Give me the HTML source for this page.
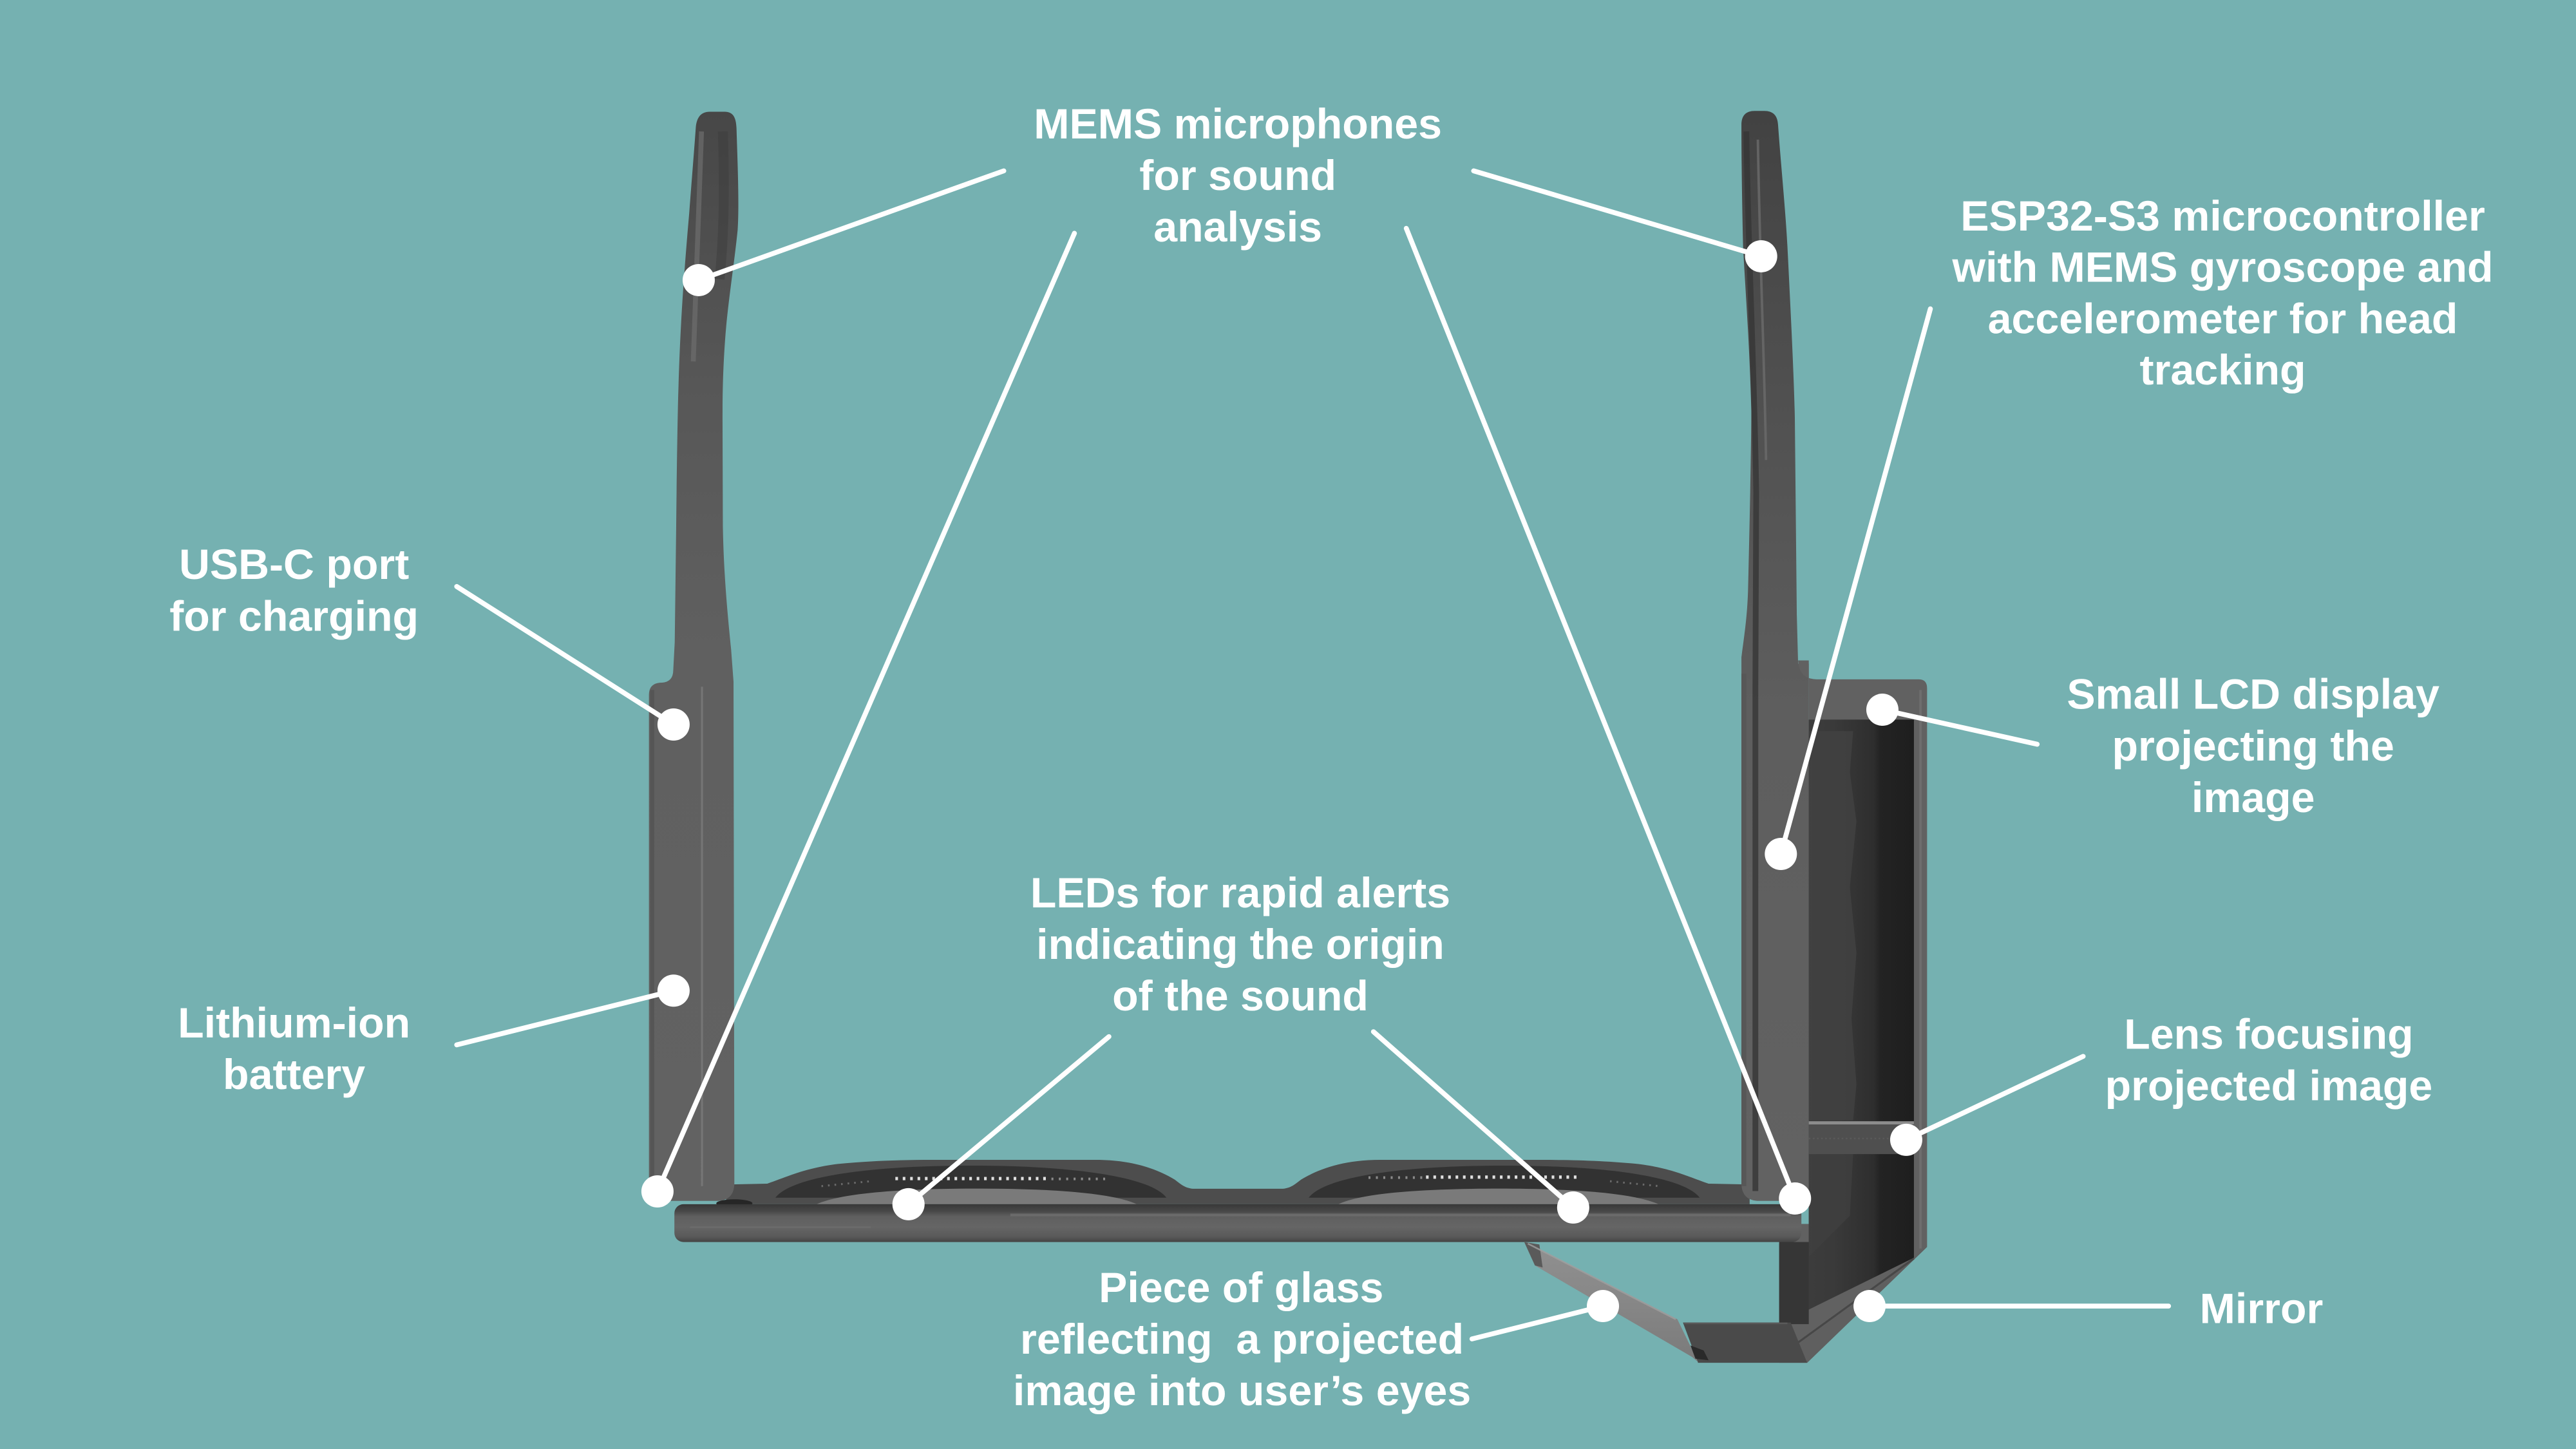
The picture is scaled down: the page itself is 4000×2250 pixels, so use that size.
<!DOCTYPE html>
<html>
<head>
<meta charset="utf-8">
<style>
html,body{margin:0;padding:0;background:#75b1b1;}
svg{display:block;}
text{font-family:"Liberation Sans",Arial,sans-serif;font-weight:bold;font-size:26px;fill:#ffffff;text-anchor:middle;}
</style>
</head>
<body>
<svg width="4000" height="2250" viewBox="0 0 1568 882" xmlns="http://www.w3.org/2000/svg">
<defs>
  <linearGradient id="armL" x1="0" y1="0" x2="0" y2="1">
    <stop offset="0" stop-color="#474747"/>
    <stop offset="0.25" stop-color="#575757"/>
    <stop offset="0.5" stop-color="#606060"/>
    <stop offset="1" stop-color="#626262"/>
  </linearGradient>
  <linearGradient id="armR" x1="0" y1="0" x2="0" y2="1">
    <stop offset="0" stop-color="#424242"/>
    <stop offset="0.3" stop-color="#525252"/>
    <stop offset="0.55" stop-color="#5e5e5e"/>
    <stop offset="1" stop-color="#626262"/>
  </linearGradient>
  <linearGradient id="bar" x1="0" y1="0" x2="0" y2="1">
    <stop offset="0" stop-color="#383838"/>
    <stop offset="0.18" stop-color="#474747"/>
    <stop offset="0.32" stop-color="#5f5f5f"/>
    <stop offset="0.6" stop-color="#656565"/>
    <stop offset="0.85" stop-color="#5a5a5a"/>
    <stop offset="1" stop-color="#444444"/>
  </linearGradient>
  <linearGradient id="cav" x1="0" y1="0" x2="1" y2="0">
    <stop offset="0" stop-color="#3e3e3e"/>
    <stop offset="0.4" stop-color="#3a3a3a"/>
    <stop offset="0.7" stop-color="#2e2e2e"/>
    <stop offset="0.75" stop-color="#232323"/>
    <stop offset="1" stop-color="#1e1e1e"/>
  </linearGradient>
  <linearGradient id="glass" x1="0" y1="0" x2="0" y2="1">
    <stop offset="0" stop-color="#909090"/>
    <stop offset="0.5" stop-color="#878787"/>
    <stop offset="1" stop-color="#7a7a7a"/>
  </linearGradient>
</defs>

<rect x="0" y="0" width="1568" height="882" fill="#75b1b1"/>

<!-- ===== Frame top surface with lens rims ===== -->
<path d="M 442,733 L 442,721 L 467,720.5 C 480,716 490,711 510,708.5 C 530,706.5 550,706 567,706 L 667,706 C 690,706 705,712 715,718 C 719,721 721,723 726,723.6 L 781,723.6 C 786,723 788,721 792,718 C 802,712 817,706 840,706 L 940,706 C 957,706 977,706.5 997,708.5 C 1017,711 1027,716 1040,720.5 L 1065,721 L 1065,733 Z" fill="#4d4d4d"/>
<!-- left rim recess -->
<path d="M 472,729 C 482,716 530,709.5 591,709.5 C 652,709.5 700,716 710,729 Z" fill="#323232"/>
<path d="M 497,733 C 515,725 560,723.5 594,723.5 C 630,723.5 675,725 692,733 Z" fill="#7a7a7a"/>
<!-- right rim recess -->
<path d="M 796.6,729 C 806.6,716 854.6,709.5 915.6,709.5 C 976.6,709.5 1024.6,716 1034.6,729 Z" fill="#323232"/>
<path d="M 814.6,733 C 831.6,725 876.6,723.5 912.6,723.5 C 946.6,723.5 991.6,725 1009.6,733 Z" fill="#7a7a7a"/>
<!-- LEDs -->
<line x1="545" y1="717.4" x2="637" y2="717.4" stroke="#e0e0e0" stroke-width="2" stroke-dasharray="1.6 2.9"/>
<line x1="640" y1="717.6" x2="673" y2="717.6" stroke="#8a8a8a" stroke-width="1.6" stroke-dasharray="1.2 3.3"/>
<line x1="500" y1="722" x2="530" y2="719" stroke="#6a6a6a" stroke-width="1.2" stroke-dasharray="1 3"/>
<line x1="868" y1="716.5" x2="961" y2="716.5" stroke="#e0e0e0" stroke-width="2" stroke-dasharray="1.6 2.9"/>
<line x1="833" y1="716.8" x2="866" y2="716.8" stroke="#8a8a8a" stroke-width="1.6" stroke-dasharray="1.2 3.3"/>
<line x1="980" y1="719" x2="1010" y2="722" stroke="#6a6a6a" stroke-width="1.2" stroke-dasharray="1 3"/>

<!-- ===== Left temple ===== -->
<path d="M 423.5,78 C 424,71 427,68 432,68 L 441,68 C 446,68 448,71 448.3,78 C 449,100 450,125 449,140 C 447,160 443,185 441.5,205 C 440,225 439.8,240 439.8,255 L 440,320 C 440.5,350 443,375 445,395 L 446.5,415 L 447,720 Q 447,731 436,731 L 404,731 Q 395,731 395,722 L 395,423 Q 395,415.5 403,415.5 Q 409.7,415 409.8,408 L 410.7,391 L 411.6,320 C 412,280 412.5,250 413,235 C 414,200 416,170 419.5,130 C 421,110 422.5,92 423.5,78 Z" fill="url(#armL)"/>
<!-- left temple highlights -->
<path d="M 427,80 C 426,120 424,170 422,220" stroke="#6e6e6e" stroke-width="3" fill="none" opacity="0.7"/>
<path d="M 440,80 C 441,110 441,140 438,170" stroke="#3c3c3c" stroke-width="6" fill="none" opacity="0.5"/>
<line x1="427.3" y1="418" x2="427.3" y2="722" stroke="#767676" stroke-width="1.2"/>
<line x1="397" y1="420" x2="397" y2="725" stroke="#555555" stroke-width="2.5"/>
<!-- hinge shadow -->
<ellipse cx="447" cy="732.5" rx="11" ry="2.5" fill="#262626"/>

<!-- ===== Right temple ===== -->
<path d="M 1060,76 C 1060,70 1063,67.5 1068,67.5 L 1074,67.5 C 1079,67.5 1082,70 1082.3,76 C 1084,100 1087,130 1088,150 C 1090,190 1092,230 1092.5,254 L 1093.7,374 L 1094.5,404 L 1101,404 L 1101,731 L 1071,731 Q 1060,731 1060,720 L 1060,400 C 1062,385 1063.5,375 1064,360 C 1065,320 1066,270 1066,250 C 1065,210 1062,170 1061,150 C 1060.3,120 1060,95 1060,76 Z" fill="url(#armR)"/>
<path d="M 1063,80 C 1064,150 1068,230 1069,300 L 1068.5,420 L 1068.5,725" stroke="#363636" stroke-width="3.5" fill="none" opacity="0.8"/>
<path d="M 1070,85 C 1071,150 1074,220 1075,280" stroke="#6c6c6c" stroke-width="1.5" fill="none" opacity="0.8"/>
<line x1="1061.5" y1="410" x2="1061.5" y2="722" stroke="#575757" stroke-width="3"/>

<!-- ===== LCD box ===== -->
<path d="M 1094.5,402 Q 1095,413.5 1106,413.5 L 1168,413.5 Q 1173,413.5 1173,419 L 1173,759 L 1100,829.5 L 1083,829.5 L 1083,745 L 1101,745 L 1101,402 Z" fill="#616161"/>
<line x1="1169" y1="420" x2="1169" y2="760" stroke="#6e6e6e" stroke-width="1.5"/>
<polygon points="1101,438 1165,438 1165,765.6 1083,806 1083,757 1101,757" fill="url(#cav)"/>
<path d="M 1101,445 L 1128,445 L 1126,470 L 1130,500 L 1126,540 L 1130,580 L 1127,620 L 1130,660 L 1128,682 L 1101,682 Z" fill="#424242" opacity="0.8"/>
<path d="M 1101,702 L 1128,702 L 1126,740 L 1101,765 Z" fill="#404040" opacity="0.8"/>
<!-- lens -->
<rect x="1101" y="682.5" width="64" height="2" fill="#8c8c8c"/>
<rect x="1101" y="684.5" width="64" height="18" fill="#4f4f4f"/>
<line x1="1101" y1="693" x2="1165" y2="693" stroke="#5a5a5a" stroke-width="1" stroke-dasharray="1 1.5"/>
<!-- mirror band -->
<polygon points="1090,820 1165,765.6 1173,759 1100,829.5" fill="#5f5f5f"/>
<line x1="1092" y1="819" x2="1165" y2="766" stroke="#474747" stroke-width="1.2"/>

<!-- ===== Front bar ===== -->
<rect x="410.5" y="733" width="686" height="23" rx="5.5" ry="5.5" fill="url(#bar)"/>
<line x1="615" y1="739.5" x2="1090" y2="739.5" stroke="#737373" stroke-width="1.6" opacity="0.7"/>
<line x1="420" y1="747" x2="530" y2="747" stroke="#707070" stroke-width="1.2" opacity="0.6"/>
<!-- below bar right: front wall of box -->
<rect x="1083" y="756" width="18" height="50" fill="#363636"/>

<!-- ===== Glass holder plate ===== -->
<polygon points="1024.4,805 1090,805 1100,829.5 1033.6,829.5" fill="#4a4a4a"/>
<line x1="1025" y1="805.5" x2="1088" y2="805.5" stroke="#5a5a5a" stroke-width="1"/>
<!-- glass -->
<polygon points="927.8,755.8 1021,803 1033.6,829 1030,826 934.3,770.3" fill="url(#glass)"/>
<polygon points="927.8,756 937,757.5 939,771.5 934.3,770.3" fill="#5a5a5a"/>
<line x1="930" y1="757" x2="1020" y2="803" stroke="#a0a0a0" stroke-width="1" opacity="0.8"/>
<polygon points="1029,819 1037,822 1040,828 1032,827" fill="#2a2a2a"/>

<!-- ===== Connector lines ===== -->
<g stroke="#ffffff" stroke-width="3" stroke-linecap="round" fill="none">
  <line x1="611" y1="104" x2="425.3" y2="170.5"/>
  <line x1="897" y1="104" x2="1072" y2="156"/>
  <line x1="654" y1="142" x2="400.2" y2="725.2"/>
  <line x1="856" y1="139" x2="1092.6" y2="729.5"/>
  <line x1="1175" y1="188" x2="1084" y2="519.8"/>
  <line x1="278" y1="357" x2="410" y2="441"/>
  <line x1="278" y1="636" x2="410" y2="603"/>
  <line x1="675" y1="631" x2="553" y2="733"/>
  <line x1="836" y1="628" x2="957.6" y2="735"/>
  <line x1="1240" y1="453" x2="1145.8" y2="432"/>
  <line x1="1268" y1="643" x2="1160.3" y2="693.8"/>
  <line x1="1320" y1="795" x2="1138" y2="795"/>
  <line x1="896" y1="815" x2="975.7" y2="795"/>
</g>
<g fill="#ffffff">
  <circle cx="425.3" cy="170.5" r="9.8"/>
  <circle cx="1072" cy="156" r="9.8"/>
  <circle cx="400.2" cy="725.2" r="9.8"/>
  <circle cx="1092.6" cy="729.5" r="9.8"/>
  <circle cx="1084" cy="519.8" r="9.8"/>
  <circle cx="410" cy="441" r="9.8"/>
  <circle cx="410" cy="603" r="9.8"/>
  <circle cx="553" cy="733" r="9.8"/>
  <circle cx="957.6" cy="735" r="9.8"/>
  <circle cx="1145.8" cy="432" r="9.8"/>
  <circle cx="1160.3" cy="693.8" r="9.8"/>
  <circle cx="1138" cy="795" r="9.8"/>
  <circle cx="975.7" cy="795" r="9.8"/>
</g>

<!-- ===== Labels ===== -->
<text x="753.5" y="84.3">MEMS microphones</text>
<text x="753.5" y="115.7">for sound</text>
<text x="753.5" y="147.1">analysis</text>

<text x="1353" y="140.3">ESP32-S3 microcontroller</text>
<text x="1353" y="171.5">with MEMS gyroscope and</text>
<text x="1353" y="202.8">accelerometer for head</text>
<text x="1353" y="234">tracking</text>

<text x="179" y="352.5">USB-C port</text>
<text x="179" y="383.9">for charging</text>

<text x="179" y="631.5">Lithium-ion</text>
<text x="179" y="662.9">battery</text>

<text x="755" y="552.3">LEDs for rapid alerts</text>
<text x="755" y="583.7">indicating the origin</text>
<text x="755" y="615.1">of the sound</text>

<text x="1371.5" y="431.5">Small LCD display</text>
<text x="1371.5" y="462.9">projecting the</text>
<text x="1371.5" y="494.3">image</text>

<text x="1381" y="638.3">Lens focusing</text>
<text x="1381" y="669.7">projected image</text>

<text x="1376.5" y="805.3">Mirror</text>

<text x="755.5" y="792.6">Piece of glass</text>
<text x="756" y="824">reflecting&#160; a projected</text>
<text x="756" y="855.4">image into user’s eyes</text>
</svg>
</body>
</html>
